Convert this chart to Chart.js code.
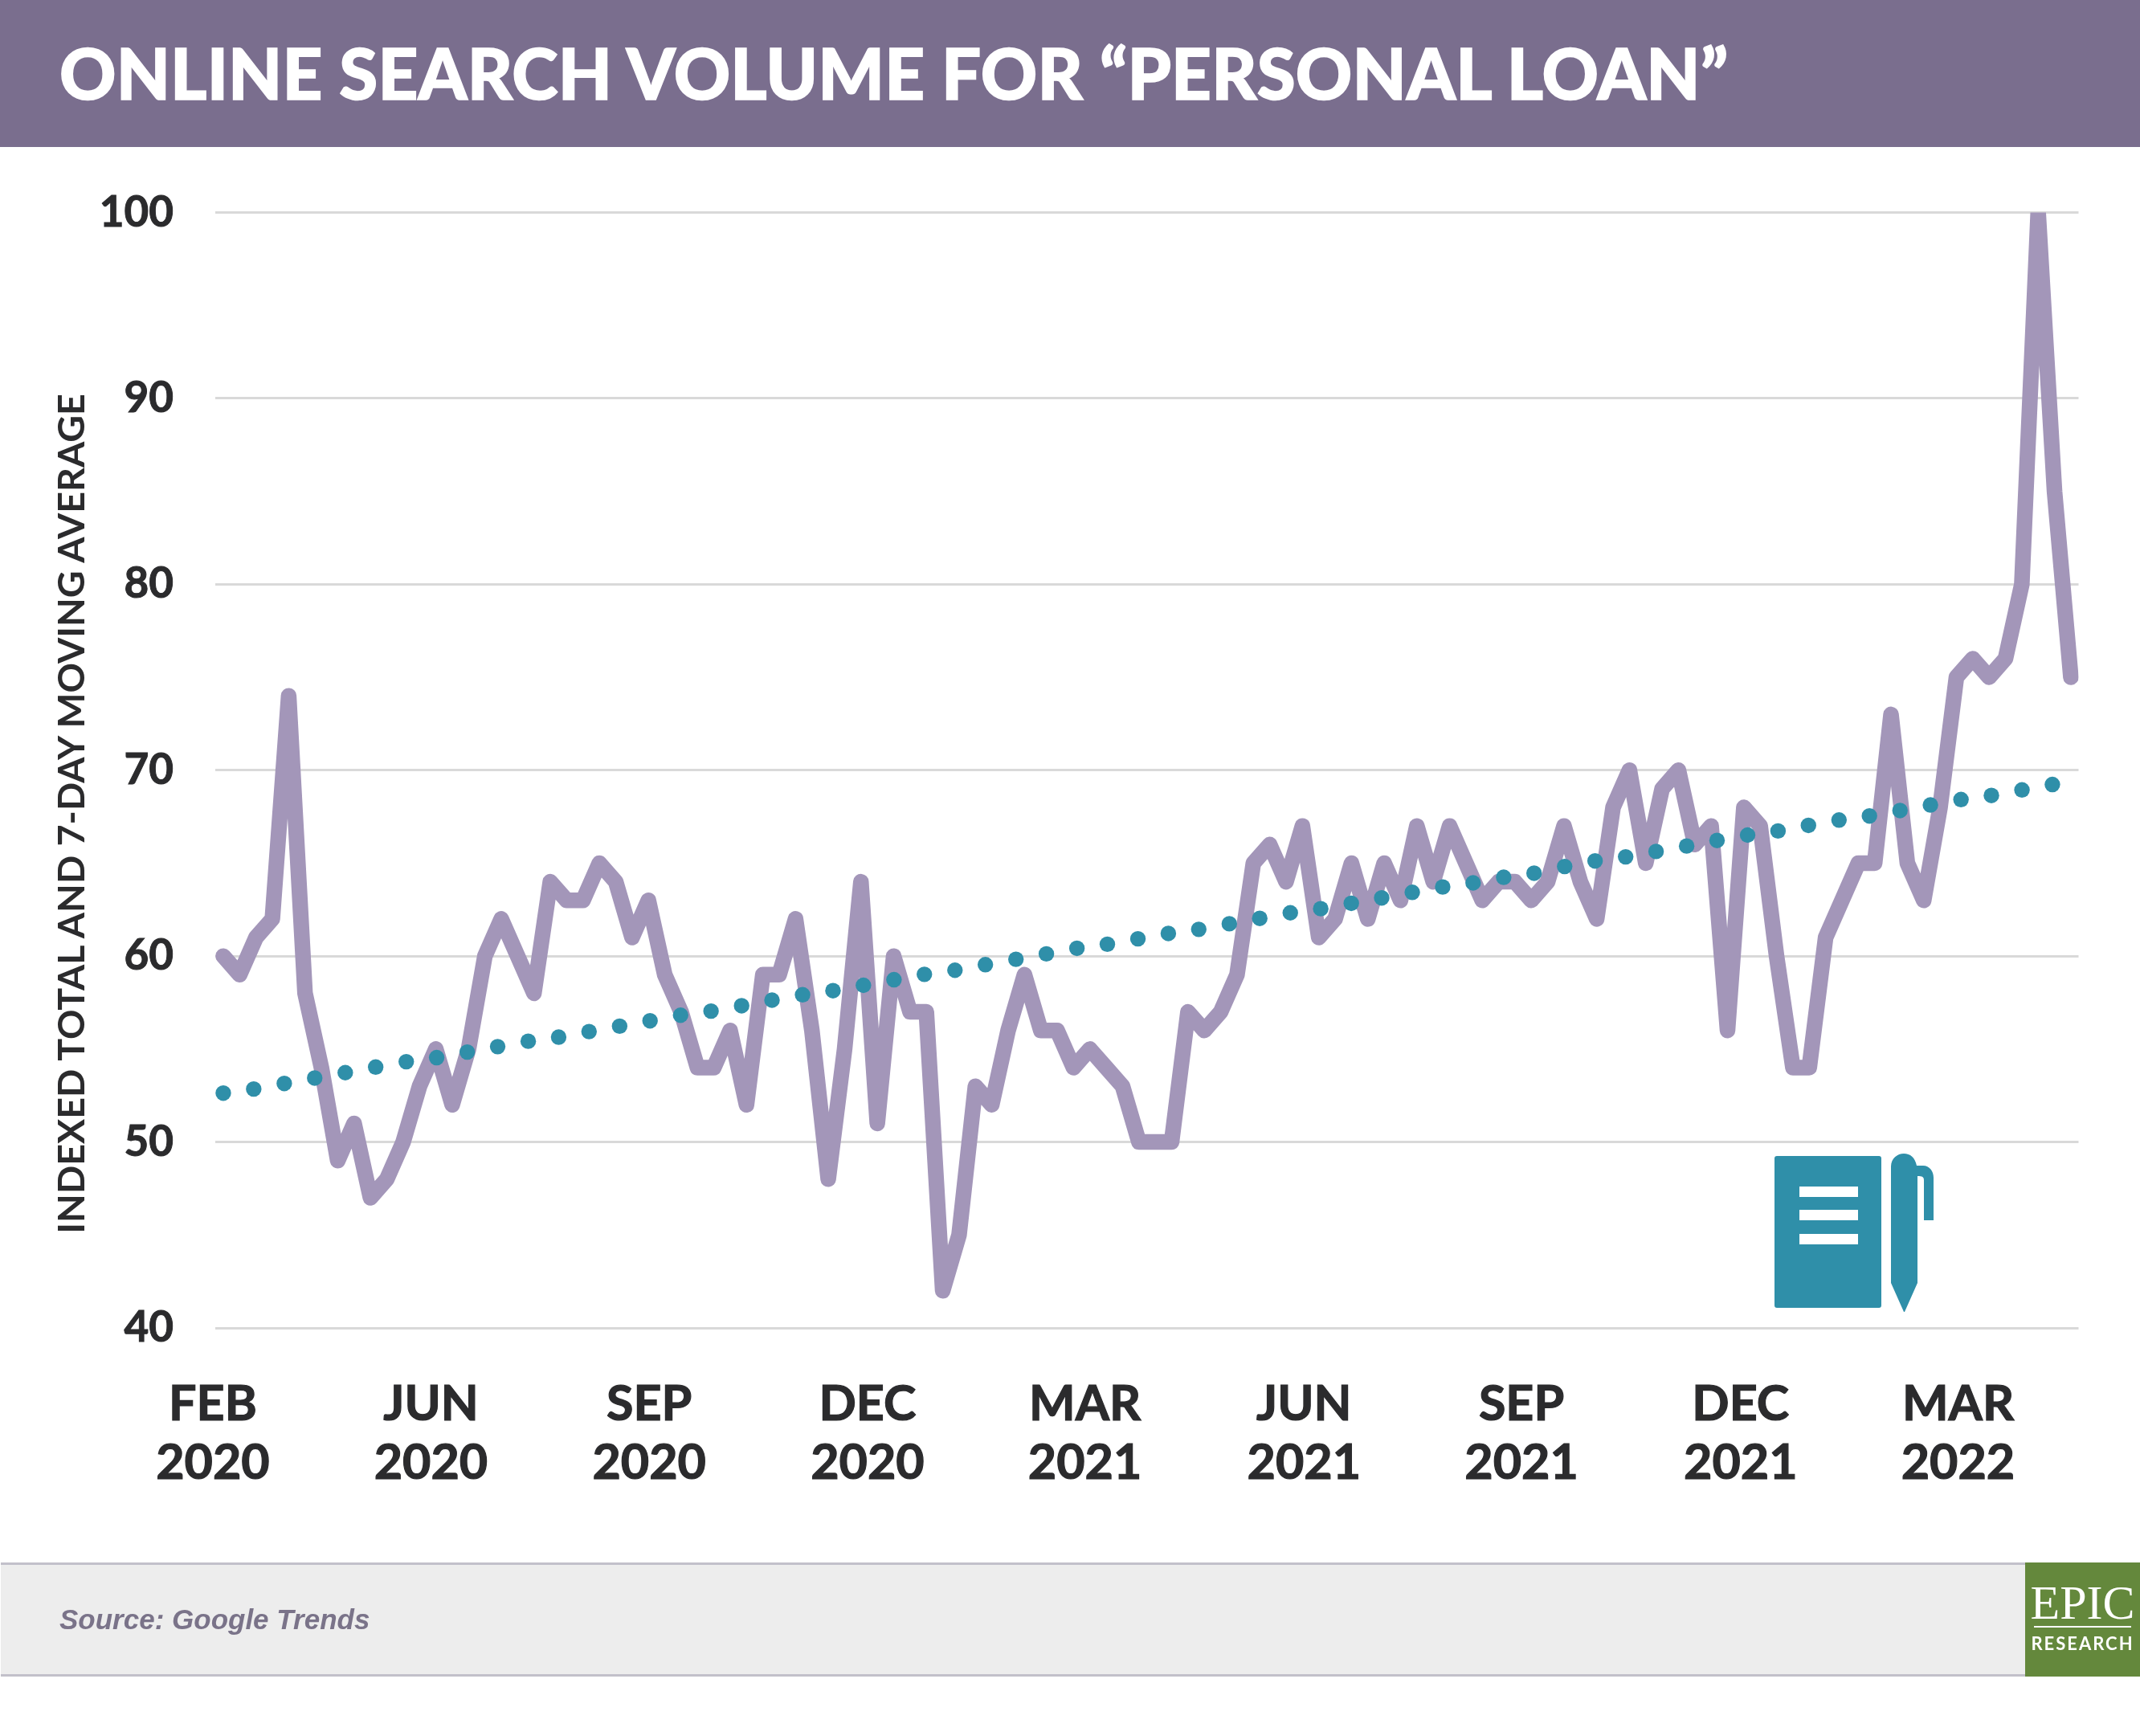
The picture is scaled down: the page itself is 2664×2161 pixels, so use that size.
<!DOCTYPE html>
<html><head><meta charset="utf-8">
<script src="https://cdn.jsdelivr.net/npm/chart.js@4"></script>
<style>
html,body{margin:0;padding:0;background:#fff;}
#page{position:relative;width:2664px;height:2161px;overflow:hidden;background:#fff;}
#band{position:absolute;left:0;top:0;width:2664px;height:183px;background:#7a6e8e;}
#title{position:absolute;left:74px;top:41px;font:900 87px/100px Lato,sans-serif;letter-spacing:0.12px;-webkit-text-stroke:1.5px #fff;color:#fff;white-space:nowrap;}
#ytitle{position:absolute;left:87px;top:1012.5px;transform:translate(-50%,-50%) rotate(-90deg);font:700 46.5px/56px Lato,sans-serif;color:#2b2b2d;white-space:nowrap;}
canvas{position:absolute;left:0;top:0;}
#foot{position:absolute;left:1px;top:1945px;width:2663px;height:142px;background:#ededed;border-top:3px solid #c2c0ca;border-bottom:3px solid #c2c0ca;box-sizing:border-box;}
#src{position:absolute;left:74px;top:1995px;font:italic 700 35px/42px "Liberation Sans",Arial,sans-serif;color:#7a7389;white-space:nowrap;}
#logo{position:absolute;left:2521px;top:1945px;width:143px;height:142px;background:#64883c;color:#fff;}
#epic{position:absolute;left:0;top:20px;width:143px;text-align:center;font:400 60px/60px "Liberation Serif",serif;white-space:nowrap;}
#rule{position:absolute;left:11px;top:79px;width:121px;height:2px;background:#fff;}
#research{position:absolute;left:0;top:88px;width:143px;text-align:center;font:700 22px/26px Lato,sans-serif;letter-spacing:2px;white-space:nowrap;}
#icon{position:absolute;left:0;top:0;}
</style></head><body>
<div id="page">
<div id="band"></div>
<div id="title">ONLINE SEARCH VOLUME FOR “PERSONAL LOAN”</div>
<canvas id="c" width="2664" height="2161"></canvas>
<div id="ytitle">INDEXED TOTAL AND 7-DAY MOVING AVERAGE</div>
<svg id="icon" width="2664" height="2161" viewBox="0 0 2664 2161">
<g fill="#2f8fa9">
<rect x="2209" y="1439" width="133" height="189" rx="3"/>
<path d="M2354 1452 C2354 1442 2362 1436 2370 1436 C2378 1436 2384 1441 2386 1451 L2394 1451 C2402 1451 2407 1458 2407 1466 L2407 1519 L2395 1519 L2395 1469 C2395 1465 2393 1464 2387 1464 L2387 1597 L2371 1633 L2370 1633 L2354 1597 Z"/>
</g>
<g fill="#fff">
<rect x="2240" y="1477" width="73" height="13"/>
<rect x="2240" y="1506" width="73" height="13"/>
<rect x="2240" y="1536" width="73" height="13"/>
</g>
</svg>
<div id="foot"></div>
<div id="src">Source: Google Trends</div>
<div id="logo"><div id="epic">EPIC</div><div id="rule"></div><div id="research">RESEARCH</div></div>
</div>
<script>
const searchVolume = [60,59,61,62,74,58,54,49,51,47,
48,50,53,55,52,55,60,62,60,58,
64,63,63,65,64,61,63,59,57,54,
54,56,52,59,59,62,56,48,55,64,
51,60,57,57,42,45,53,52,56,59,
56,56,54,55,54,53,50,50,50,57,
56,57,59,65,66,64,67,61,62,65,
62,65,63,67,64,67,65,63,64,64,
63,64,67,64,62,68,70,65,69,70,
66,67,56,68,67,60,54,54,61,63,
65,65,73,65,63,68,75,76,75,76,
80,100,85,75];
const trendWeeks = [0,1.86,3.73,5.59,7.46,9.32,11.19,13.05,14.92,16.78,18.65,20.51,22.37,24.24,26.1,27.97,29.83,31.7,33.56,35.43,37.29,39.15,41.02,42.88,44.75,46.61,48.48,50.34,52.21,54.07,55.94,57.8,59.66,61.53,63.39,65.26,67.12,68.99,70.85,72.72,74.58,76.44,78.31,80.17,82.04,83.9,85.77,87.63,89.5,91.36,93.23,95.09,96.95,98.82,100.68,102.55,104.41,106.28,108.14,110.01,111.87];
const trendValues = [52.63,52.85,53.15,53.44,53.73,54.03,54.32,54.54,54.84,55.13,55.42,55.64,55.94,56.23,56.52,56.82,57.04,57.33,57.63,57.92,58.14,58.43,58.73,59.02,59.24,59.54,59.83,60.12,60.42,60.64,60.93,61.22,61.44,61.74,62.03,62.33,62.55,62.84,63.13,63.43,63.72,63.94,64.24,64.46,64.82,65.12,65.34,65.63,65.92,66.22,66.51,66.73,67.03,67.32,67.54,67.83,68.13,68.42,68.64,68.94,69.23];
const tickWeeks = [-0.64,12.7,26.05,39.4,52.7,66.1,79.4,92.8,106.1];
const tickMonths = ["FEB","JUN","SEP","DEC","MAR","JUN","SEP","DEC","MAR"];
const tickYears = ["2020","2020","2020","2020","2021","2021","2021","2021","2022"];

new Chart(document.getElementById('c'), {
  type: 'line',
  data: { datasets: [
    { label:'Trend', order:0, showLine:false,
      data: trendValues.map((v,i)=>({x:trendWeeks[i],y:v})),
      pointRadius:9.7, pointBackgroundColor:'#2f8fa9', pointBorderWidth:0 },
    { label:'Search volume', order:1,
      data: searchVolume.map((v,i)=>({x:i,y:v})),
      borderColor:'#a396b9', borderWidth:19.5, borderCapStyle:'round', borderJoinStyle:'round',
      pointRadius:0, tension:0, clip:0 }
  ]},
  options: {
    responsive:false, animation:false, devicePixelRatio:1,
    layout:{padding:{left:0,right:76.5,top:264.5,bottom:0}},
    plugins:{legend:{display:false},tooltip:{enabled:false},title:{display:false}},
    scales:{
      x:{ type:'linear', min:-0.49, max:113.47,
        grid:{display:false,drawTicks:false}, border:{display:false},
        afterBuildTicks:s=>{ s.ticks = tickWeeks.map(v=>({value:v})); },
        afterFit:s=>{ s.height = 508; },
        ticks:{ autoSkip:false, maxRotation:0, minRotation:0, padding:59,
          color:'#2b2b2d', textStrokeColor:'#2b2b2d', textStrokeWidth:1.2, font:{family:'Lato',size:61,weight:'700',lineHeight:73/61},
          callback:(v,i)=>[tickMonths[i],tickYears[i]] } },
      y:{ min:40, max:100,
        grid:{color:'#d9d9d9',lineWidth:3,drawTicks:false}, border:{display:false},
        afterFit:s=>{ s.width = 268; },
        ticks:{ stepSize:10, padding:52, color:'#2b2b2d', textStrokeColor:'#2b2b2d', textStrokeWidth:1, font:{family:'Lato',size:53,weight:'700'} } }
    }
  }
});
</script>
</body></html>
